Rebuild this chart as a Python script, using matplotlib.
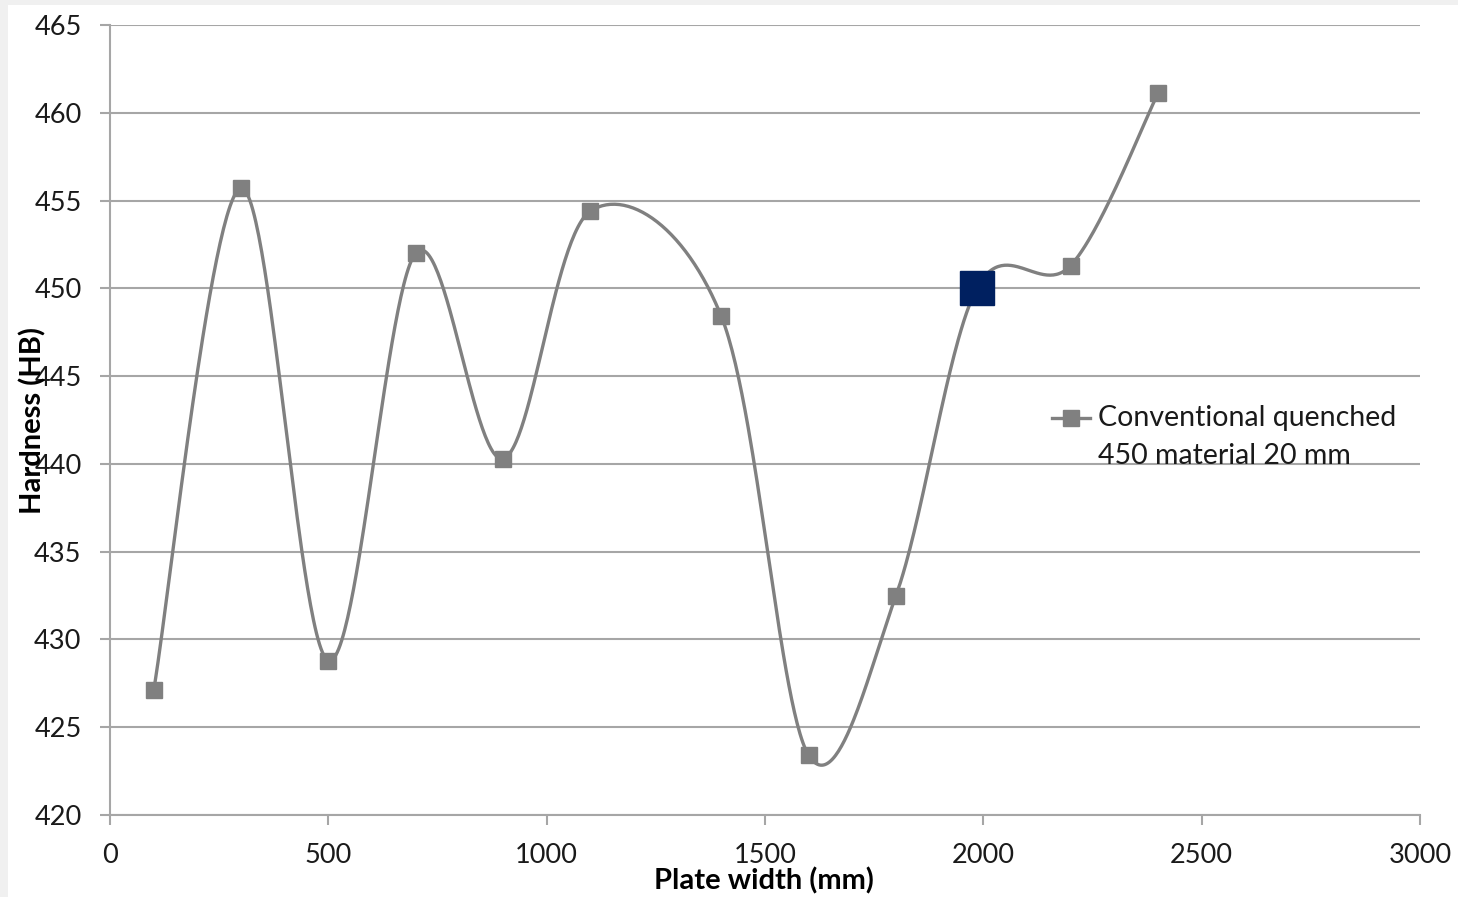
import numpy as np
import matplotlib
matplotlib.use("Agg")
import matplotlib.pyplot as plt
from matplotlib.lines import Line2D
from matplotlib.patches import Rectangle

plt.rcParams['font.family'] = ['Lato', 'DejaVu Sans']

# Hardness across the plate width
width_mm = [100, 300, 500, 700, 900, 1100, 1400, 1600, 1800, 1985, 2200, 2400]
hardness_hb = [427.1, 455.7, 428.8, 452.0, 440.3, 454.4, 448.4, 423.4, 432.5, 450.0, 451.3, 461.1]
highlight_x = [1985]
highlight_y = [450.0]
series_label = "Conventional quenched\n450 material 20 mm"
x_ticks = [0, 500, 1000, 1500, 2000, 2500, 3000]
y_ticks = [420, 425, 430, 435, 440, 445, 450, 455, 460, 465]

W, H = 1458, 897
fig = plt.figure(figsize=(W / 100, H / 100), dpi=100)
fig.patch.set_facecolor('#f0f0f0')
fig.add_artist(Rectangle((8 / W, 0), 1, 1 - 5 / H, transform=fig.transFigure,
                         facecolor='white', edgecolor='none', zorder=-10))

ax = fig.add_axes([110 / W, (H - 815) / H, 1310 / W, 790 / H])
ax.set_facecolor('none')


def smooth(xs, ys, n=60):
    # Bezier smoothing with Catmull-Rom control points
    px = np.asarray(xs, float)
    py = np.asarray(ys, float)
    m = len(px)
    outx, outy = [], []
    for i in range(m - 1):
        i0 = max(i - 1, 0)
        i3 = min(i + 2, m - 1)
        p0 = np.array([px[i], py[i]])
        p3 = np.array([px[i + 1], py[i + 1]])
        c1 = p0 + (np.array([px[i + 1], py[i + 1]]) - np.array([px[i0], py[i0]])) / 6
        c2 = p3 - (np.array([px[i3], py[i3]]) - np.array([px[i], py[i]])) / 6
        t = np.linspace(0, 1, n)[:, None]
        b = ((1 - t) ** 3) * p0 + 3 * ((1 - t) ** 2) * t * c1 + 3 * (1 - t) * t ** 2 * c2 + t ** 3 * p3
        outx.extend(b[:, 0])
        outy.extend(b[:, 1])
    return np.array(outx), np.array(outy)


grid_c = '#a6a6a6'
line_c = '#808080'

sx, sy = smooth(width_mm, hardness_hb)
ax.plot(sx, sy, color=line_c, lw=2.4, zorder=3, solid_capstyle='round')
ax.plot(width_mm, hardness_hb, ls='none', marker='s', ms=11.5,
        mfc=line_c, mec=line_c, zorder=4)
ax.plot(highlight_x, highlight_y, ls='none', marker='s', ms=24,
        mfc='#002060', mec='#002060', zorder=5)

ax.set_xlim(0, 3000)
ax.set_ylim(420, 465)
ax.set_xticks(x_ticks)
ax.set_yticks(y_ticks)
ax.yaxis.grid(True, color=grid_c, lw=1.5)
ax.set_axisbelow(True)

for s in ['top', 'right']:
    ax.spines[s].set_visible(False)
for s in ['left', 'bottom']:
    ax.spines[s].set_color(grid_c)
    ax.spines[s].set_linewidth(1.5)

ax.tick_params(axis='both', colors=grid_c, width=1.5, length=7.5,
               labelcolor='#1a1a1a', labelsize=19.5)
ax.tick_params(axis='y', pad=13)
ax.tick_params(axis='x', pad=13)

# Axis titles
fig.text(764 / W, 1 - 881 / H, "Plate width (mm)", ha='center', va='center',
         fontsize=21, fontweight='bold', color='#000000')
fig.text(33 / W, 1 - 420 / H, "Hardness (HB)", ha='center', va='center',
         rotation=90, fontsize=21, fontweight='bold', color='#000000')

# Legend entry
ly = 1 - 418 / H
fig.add_artist(Line2D([1052 / W, 1090 / W], [ly, ly], transform=fig.transFigure,
                      color=line_c, lw=2.4))
fig.add_artist(Line2D([1071 / W], [ly], transform=fig.transFigure, ls='none',
                      marker='s', ms=11.5, mfc=line_c, mec=line_c))
fig.text(1098 / W, ly, series_label.split('\n')[0], ha='left', va='center',
         fontsize=20.5, color='#1a1a1a')
fig.text(1098 / W, 1 - 456 / H, series_label.split('\n')[1], ha='left', va='center',
         fontsize=20.5, color='#1a1a1a')

fig.savefig('out.png', dpi=100, facecolor=fig.get_facecolor())
